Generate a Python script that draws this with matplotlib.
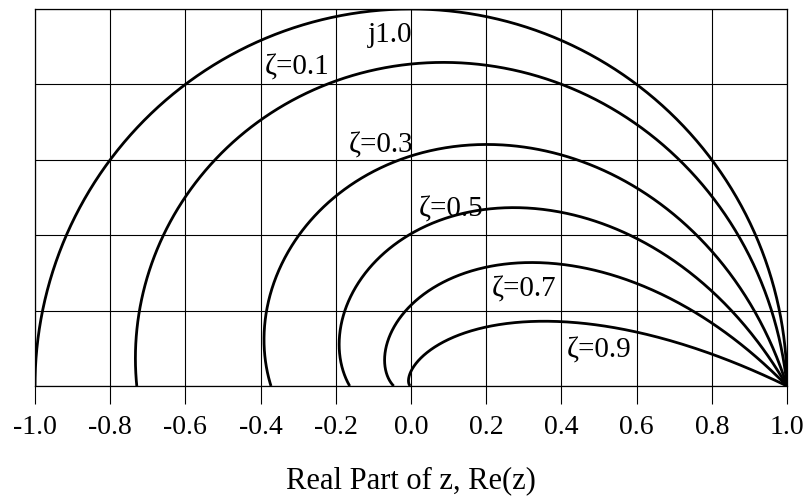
import numpy as np
import matplotlib
matplotlib.use("Agg")
import matplotlib.pyplot as plt

# damping ratios drawn as loci in the z-plane
zetas = [0.0, 0.1, 0.3, 0.5, 0.7, 0.9]
x_ticks = [-1.0, -0.8, -0.6, -0.4, -0.2, 0.0, 0.2, 0.4, 0.6, 0.8, 1.0]
x_tick_labels = ["-1.0", "-0.8", "-0.6", "-0.4", "-0.2", "0.0", "0.2", "0.4", "0.6", "0.8", "1.0"]
y_grid = [0.0, 0.2, 0.4, 0.6, 0.8, 1.0]

# curve labels: text, x, y (baseline), alignment
labels = [
    ("j1.0", 0.003, 0.912, "right"),
    ("ζ=0.1", -0.388, 0.825, "left"),
    ("ζ=0.3", -0.165, 0.618, "left"),
    ("ζ=0.5", 0.021, 0.450, "left"),
    ("ζ=0.7", 0.215, 0.236, "left"),
    ("ζ=0.9", 0.415, 0.075, "left"),
]

plt.rcParams["font.family"] = ["Liberation Serif", "DejaVu Serif"]

fig = plt.figure(figsize=(8.08, 4.98), dpi=100)
ax = fig.add_axes([0.0433, 0.2249, 0.9307, 0.7571])

# z = exp(sT), s on the constant-zeta line, wT from 0 to pi
theta = np.linspace(0, np.pi, 600)
for zeta in zetas:
    r = np.exp(-zeta * theta / np.sqrt(1 - zeta ** 2))
    z = r * np.exp(1j * theta)
    ax.plot(z.real, z.imag, color="black", lw=2.0, solid_capstyle="butt", zorder=3)

for txt, x, y, ha in labels:
    ax.text(x, y, txt, fontsize=21, ha=ha, va="baseline", zorder=4)

ax.set_xlim(-1.0, 1.0)
ax.set_ylim(0.0, 1.0)
ax.set_xticks(x_ticks)
ax.set_xticklabels(x_tick_labels, fontsize=20)
ax.set_yticks(y_grid)
ax.set_yticklabels([])
ax.tick_params(axis="y", length=0)
ax.tick_params(axis="x", direction="out", length=13, width=0.8, pad=8)
ax.grid(True, color="black", lw=0.8)
for sp in ax.spines.values():
    sp.set_linewidth(0.9)

ax.set_xlabel("Real Part of z, Re(z)", fontsize=22, labelpad=19)

fig.savefig("out.png", dpi=100)
